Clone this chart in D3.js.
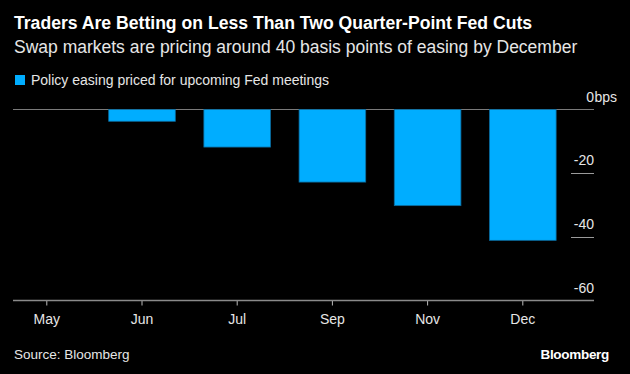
<!DOCTYPE html>
<html><head><meta charset="utf-8">
<script src="https://cdn.jsdelivr.net/npm/d3@7"></script>
<style>
html,body{margin:0;padding:0;background:#000;}
svg{display:block;font-family:"Liberation Sans",Arial,Helvetica,sans-serif;}
</style></head>
<body>
<script>
const categories = ["May","Jun","Jul","Sep","Nov","Dec"];
const easing = [0, -3.7, -11.8, -22.8, -30.2, -41.1];
const yTicks = [0, -20, -40, -60];
const yTickLabels = ["0", "-20", "-40", "-60"];
const yUnit = "bps";
const title = "Traders Are Betting on Less Than Two Quarter-Point Fed Cuts";
const subtitle = "Swap markets are pricing around 40 basis points of easing by December";
const legendLabel = "Policy easing priced for upcoming Fed meetings";
const source = "Source: Bloomberg";

const W = 630, H = 374;
const svg = d3.select("body").append("svg").attr("width", W).attr("height", H);
svg.append("rect").attr("width", W).attr("height", H).attr("fill", "#000");

const x = d3.scaleBand().domain(categories).range([-0.8, 570.4]).paddingInner(0.3).paddingOuter(0.15);
const y = d3.scaleLinear().domain([-60, 0]).range([300.5, 109.5]);

svg.append("text").attr("x", 14).attr("y", 29).attr("fill", "#fff")
  .attr("font-size", 17.6).attr("font-weight", "bold").text(title);
svg.append("text").attr("x", 14).attr("y", 53).attr("fill", "#e6e6e6")
  .attr("font-size", 17.5).text(subtitle);

svg.append("rect").attr("x", 15).attr("y", 75).attr("width", 10).attr("height", 10).attr("fill", "#00adff");
svg.append("text").attr("x", 31).attr("y", 84.5).attr("fill", "#e6e6e6").attr("font-size", 14).text(legendLabel);

// y tick segments and labels on right
const yg = svg.append("g");
yTicks.forEach((t, i) => {
  if (t !== 0 && t !== -60) {
    yg.append("line").attr("x1", 571).attr("x2", 594).attr("y1", Math.round(y(t)) + 0.5).attr("y2", Math.round(y(t)) + 0.5)
      .attr("stroke", "#9a9a9a").attr("stroke-width", 1);
  }
  yg.append("text").attr("x", 594).attr("y", y(t) - 8).attr("text-anchor", "end")
    .attr("fill", "#e6e6e6").attr("font-size", 14).text(yTickLabels[i]);
  if (i === 0) {
    yg.append("text").attr("x", 594.5).attr("y", y(t) - 8)
      .attr("fill", "#e6e6e6").attr("font-size", 14).text(yUnit);
  }
});

// zero line
svg.append("line").attr("x1", 13).attr("x2", 594).attr("y1", y(0)).attr("y2", y(0))
  .attr("stroke", "#7a7a7a").attr("stroke-width", 1.2);

// bars
svg.append("g").selectAll("rect").data(categories).join("rect")
  .attr("x", d => x(d))
  .attr("width", x.bandwidth())
  .attr("y", y(0))
  .attr("height", (d, i) => y(easing[i]) - y(0))
  .attr("fill", "#00adff")
  .attr("stroke", "#0b6a9c").attr("stroke-width", (d, i) => easing[i] === 0 ? 0 : 0.8);

// x axis
const xAxis = d3.axisBottom(x).tickSize(5).tickPadding(9);
const xg = svg.append("g").attr("transform", `translate(0,${y(-60)})`).call(xAxis);
xg.select(".domain").remove();
xg.append("line").attr("x1", 13).attr("x2", 594).attr("y1", 0).attr("y2", 0).attr("stroke", "#8a8a8a").attr("stroke-width", 1.5);
xg.selectAll(".tick line").attr("stroke", "#bbb");
xg.selectAll(".tick text").attr("fill", "#e6e6e6").attr("font-size", 14).attr("font-family", "Liberation Sans, Arial, sans-serif");

svg.append("text").attr("x", 14).attr("y", 359).attr("fill", "#e6e6e6").attr("font-size", 13.5).text(source);
svg.append("text").attr("x", 609).attr("y", 359).attr("text-anchor", "end").attr("fill", "#fff")
  .attr("font-size", 13.5).attr("font-weight", "bold").attr("letter-spacing", -0.3).text("Bloomberg");
</script>
</body></html>
